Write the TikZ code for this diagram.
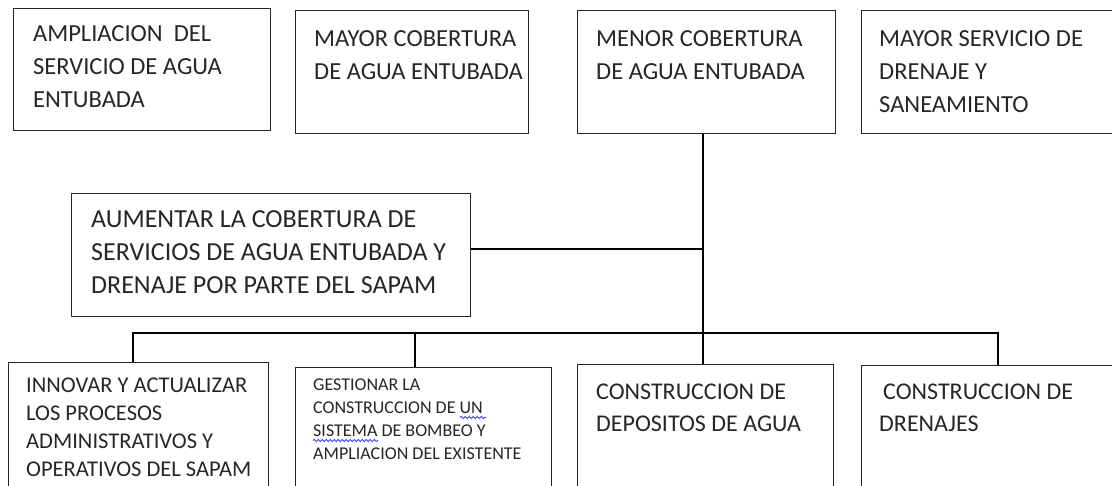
\documentclass[tikz,border=0pt]{standalone}
\usepackage{fontspec}
\setmainfont{Carlito}
\usetikzlibrary{decorations.pathmorphing}
\begin{document}
\begin{tikzpicture}[x=1pt,y=-1pt,
  box/.style={draw=black!85, line width=1.2pt, inner sep=0pt, anchor=north west},
  lbl/.style={anchor=north west, inner sep=0pt, align=left, text=black!85},
  link/.style={draw=black, line width=2.4pt},
  squig/.style={draw=blue!75, line width=0.9pt, decorate, decoration={snake, amplitude=1.1pt, segment length=4pt}},
]
\useasboundingbox (0,0) rectangle (1112,485);
% top row
\node[box, minimum width=257pt, minimum height=122pt] (t1) at (13,8) {};
\node[box, minimum width=233pt, minimum height=123pt] (t2) at (295,10) {};
\node[box, minimum width=258pt, minimum height=123pt] (t3) at (577,10) {};
\node[box, minimum width=270pt, minimum height=123pt] (t4) at (861,10) {};
% middle
\node[box, minimum width=399pt, minimum height=123pt] (m) at (71,193) {};
% bottom row
\node[box, minimum width=260pt, minimum height=140pt] (b1) at (8,362) {};
\node[box, minimum width=256pt, minimum height=140pt] (b2) at (295,367) {};
\node[box, minimum width=256pt, minimum height=140pt] (b3) at (577,364) {};
\node[box, minimum width=270pt, minimum height=140pt] (b4) at (861,365) {};
% texts
\node[lbl, font=\fontsize{24.5}{33}\selectfont] (t1x) at (33,25) {AMPLIACION\ \ DEL\\SERVICIO DE AGUA\\ENTUBADA};
\node[lbl, font=\fontsize{24.5}{33}\selectfont] (t2x) at (314,30) {MAYOR COBERTURA\\DE AGUA ENTUBADA};
\node[lbl, font=\fontsize{24.5}{33}\selectfont] (t3x) at (596,30) {MENOR COBERTURA\\DE AGUA ENTUBADA};
\node[lbl, font=\fontsize{24.5}{33}\selectfont] (t4x) at (879,30) {MAYOR SERVICIO DE\\DRENAJE Y\\SANEAMIENTO};
\node[lbl, font=\fontsize{26}{33}\selectfont] (mx) at (91,210) {AUMENTAR LA COBERTURA DE\\SERVICIOS DE AGUA ENTUBADA Y\\DRENAJE POR PARTE DEL SAPAM};
\node[lbl, font=\fontsize{22.5}{28}\selectfont] (b1x) at (26,378) {INNOVAR Y ACTUALIZAR\\LOS PROCESOS\\ADMINISTRATIVOS Y\\OPERATIVOS DEL SAPAM};
\node[lbl, font=\fontsize{18}{23}\selectfont] (b2x) at (313,379) {GESTIONAR LA\\CONSTRUCCION DE UN\\SISTEMA DE BOMBEO Y\\AMPLIACION DEL EXISTENTE};
\node[lbl, font=\fontsize{24}{32}\selectfont] (b3x) at (596,384) {CONSTRUCCION DE\\DEPOSITOS DE AGUA};
\node[lbl, font=\fontsize{24}{32}\selectfont] (b4x) at (879,384) {\hspace{4pt}CONSTRUCCION DE\\DRENAJES};
% spell-check marks
\coordinate (s1a) at (460,417.5); \coordinate (s1b) at (486,417.5);
\coordinate (s2a) at (313,440.5); \coordinate (s2b) at (378,440.5);
\path[squig] (s1a) -- (s1b);
\path[squig] (s2a) -- (s2b);
% connectors
\coordinate (jm) at (703,249);
\coordinate (jb) at (703,333);
\coordinate (bl) at (133,333);
\coordinate (bm) at (415,333);
\coordinate (br) at (998,333);
\draw[link] (t3.south -| jb) -- (jb) -- (b3.north -| jb);
\draw[link] (m.east |- jm) -- (jm);
\draw[link] (b1.north -| bl) -- (bl) -- (br) -- (b4.north -| br);
\draw[link] (bm) -- (b2.north -| bm);
\end{tikzpicture}
\end{document}
